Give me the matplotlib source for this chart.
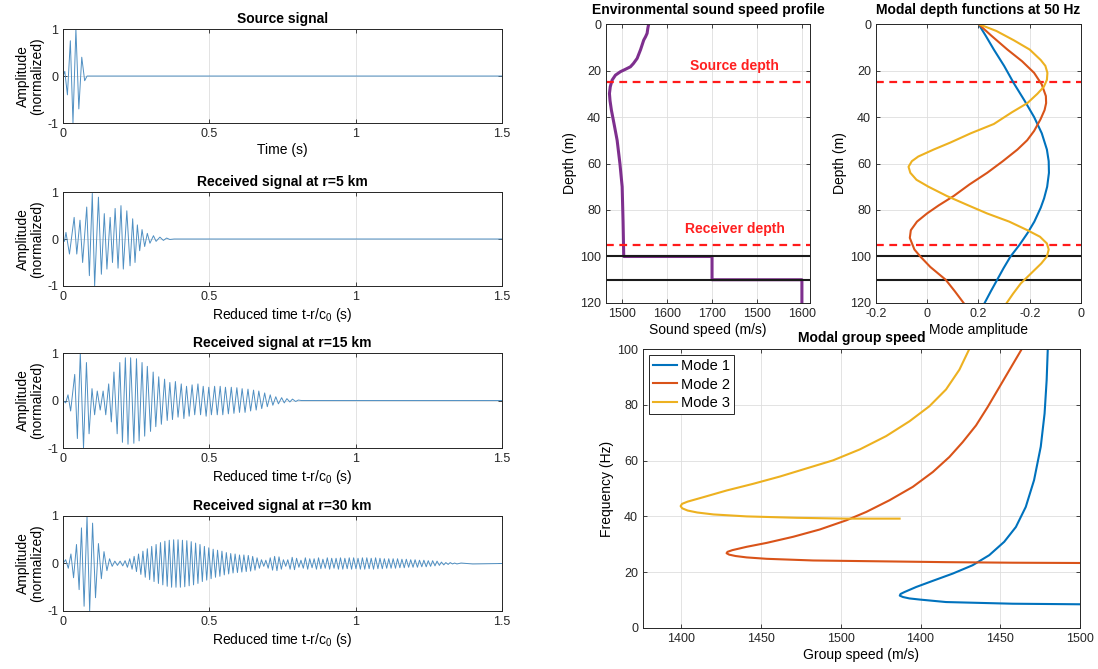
import matplotlib
matplotlib.use("Agg")
import matplotlib.pyplot as plt
import numpy as np

plt.rcParams['font.family'] = ['Liberation Sans', 'DejaVu Sans']
plt.rcParams['mathtext.default'] = 'regular'
plt.rcParams['axes.unicode_minus'] = False

# ---- signals: extrema (time s, normalized amplitude) ----
src_t = [0.000, 0.006, 0.015, 0.025, 0.034, 0.044, 0.054, 0.064, 0.074, 0.082, 1.500]
src_a = [0.00, 0.10, -0.40, 0.75, -1.00, 1.00, -0.70, 0.40, -0.10, 0.00, 0.00]

r5_t = [0.000, 0.005, 0.010, 0.022, 0.038, 0.047, 0.058, 0.067, 0.081, 0.090,
        0.100, 0.108, 0.121, 0.131, 0.141, 0.150, 0.161, 0.169, 0.178, 0.188,
        0.198, 0.206, 0.218, 0.229, 0.238, 0.246, 0.254, 0.262, 0.270, 0.279,
        0.288, 0.297, 0.309, 0.318, 0.331, 0.343, 0.354, 0.365, 0.380, 1.500]
r5_a = [0.00, -0.05, 0.14, -0.32, 0.46, -0.32, 0.40, -0.50, 0.68, -0.78,
        0.97, -1.00, 0.89, -0.75, 0.54, -0.64, 0.46, -0.50, 0.65, -0.62,
        0.71, -0.64, 0.60, -0.57, 0.43, -0.50, 0.30, -0.25, 0.20, -0.16,
        0.12, -0.09, 0.07, -0.05, 0.04, -0.03, 0.02, -0.01, 0.00, 0.00]

r15_t = [0.000, 0.009, 0.017, 0.026, 0.040, 0.049, 0.059, 0.070, 0.080, 0.089,
         0.099, 0.108, 0.117, 0.127, 0.137, 0.146, 0.156, 0.165, 0.174, 0.185,
         0.194, 0.203, 0.213, 0.222, 0.231, 0.242, 0.251, 0.260, 0.270, 0.279,
         0.288, 0.299, 0.308, 0.317, 0.327, 0.336, 0.347, 0.356, 0.365, 0.374,
         0.384, 0.393, 0.404, 0.413, 0.422, 0.431, 0.441, 0.450, 0.461, 0.470,
         0.479, 0.489, 0.498, 0.507, 0.518, 0.527, 0.537, 0.546, 0.555, 0.565,
         0.575, 0.584, 0.594, 0.603, 0.612, 0.622, 0.632, 0.641, 0.651, 0.660,
         0.669, 0.679, 0.689, 0.698, 0.708, 0.717, 0.727, 0.736, 0.747, 0.756,
         0.765, 0.775, 0.784, 0.795, 0.804, 0.815, 1.500]
r15_a = [0.00, -0.05, 0.12, -0.22, 0.55, -0.80, 1.00, -1.00, 0.80, -0.70,
         0.25, -0.30, 0.20, -0.20, 0.20, -0.30, 0.35, -0.45, 0.60, -0.70,
         0.80, -0.88, 0.90, -0.92, 0.90, -0.90, 0.88, -0.85, 0.80, -0.75,
         0.72, -0.65, 0.60, -0.55, 0.50, -0.50, 0.45, -0.42, 0.38, -0.40,
         0.40, -0.35, 0.35, -0.38, 0.30, -0.33, 0.33, -0.30, 0.35, -0.30,
         0.30, -0.33, 0.28, -0.30, 0.30, -0.30, 0.30, -0.30, 0.28, -0.28,
         0.28, -0.27, 0.27, -0.25, 0.25, -0.25, 0.24, -0.22, 0.22, -0.20,
         0.20, -0.17, 0.16, -0.13, 0.12, -0.10, 0.08, -0.07, 0.06, -0.05,
         0.04, -0.03, 0.03, -0.02, 0.01, 0.00, 0.00]

r30_t = [0.000, 0.009, 0.018, 0.027, 0.036, 0.046, 0.055, 0.063, 0.072, 0.082,
         0.091, 0.101, 0.111, 0.121, 0.131, 0.140, 0.150, 0.159, 0.168, 0.177,
         0.186, 0.195, 0.204, 0.212, 0.220,
         0.228, 0.236, 0.243, 0.251, 0.258, 0.266, 0.273, 0.281, 0.288, 0.296,
         0.303, 0.311, 0.318, 0.326, 0.333, 0.341, 0.348, 0.356, 0.363, 0.371,
         0.378, 0.386, 0.393, 0.401, 0.408, 0.416, 0.423, 0.431, 0.438, 0.446,
         0.453, 0.461, 0.468, 0.476, 0.483, 0.491, 0.498, 0.506, 0.513, 0.521,
         0.528, 0.536, 0.543, 0.551, 0.558, 0.566, 0.573, 0.581, 0.588, 0.596,
         0.603, 0.611, 0.618, 0.626, 0.633, 0.641, 0.648, 0.656, 0.663, 0.671,
         0.678, 0.686, 0.693, 0.701, 0.708, 0.716, 0.723, 0.731, 0.738, 0.746,
         0.753, 0.761, 0.768, 0.776, 0.783, 0.791, 0.798, 0.806, 0.813, 0.821,
         0.828, 0.836, 0.843, 0.851, 0.858, 0.866, 0.873, 0.881, 0.888, 0.896,
         0.903, 0.911, 0.918, 0.926, 0.933, 0.941, 0.948, 0.956, 0.963, 0.971,
         0.978, 0.986, 0.993, 1.001, 1.008, 1.016, 1.023, 1.031, 1.038, 1.046,
         1.053, 1.061, 1.068, 1.076, 1.083, 1.091, 1.098, 1.106, 1.113, 1.121,
         1.128, 1.136, 1.143, 1.151, 1.158, 1.166, 1.173, 1.181, 1.188, 1.196,
         1.203, 1.211, 1.218, 1.226, 1.233, 1.241, 1.248, 1.256, 1.263, 1.271,
         1.278, 1.286, 1.293, 1.301, 1.308, 1.316, 1.323, 1.331, 1.338, 1.346,
         1.360, 1.400, 1.500]
r30_a = [0.00, 0.08, -0.10, 0.20, -0.30, 0.40, -0.55, 0.75, -0.90, 1.00,
         -1.00, 0.85, -0.72, 0.42, -0.32, 0.25, -0.15, 0.10, -0.06, 0.05,
         -0.04, 0.05, -0.05, 0.06, -0.08,
         0.10, -0.12, 0.15, -0.17, 0.20, -0.23, 0.26, -0.29, 0.31, -0.34,
         0.36, -0.38, 0.40, -0.42, 0.44, -0.45, 0.47, -0.48, 0.49, -0.50,
         0.50, -0.50, 0.50, -0.50, 0.49, -0.49, 0.48, -0.47, 0.46, -0.45,
         0.43, -0.42, 0.40, -0.38, 0.36, -0.35, 0.33, -0.32, 0.30, -0.29,
         0.28, -0.27, 0.26, -0.24, 0.23, -0.22, 0.21, -0.20, 0.20, -0.19,
         0.18, -0.18, 0.18, -0.17, 0.17, -0.16, 0.15, -0.14, 0.12, -0.10,
         0.08, -0.06, 0.07, -0.10, 0.12, -0.14, 0.15, -0.15, 0.14, -0.12,
         0.08, -0.06, 0.08, -0.12, 0.13, -0.13, 0.11, -0.08, 0.07, -0.10,
         0.12, -0.12, 0.10, -0.09, 0.10, -0.12, 0.12, -0.11, 0.09, -0.10,
         0.12, -0.12, 0.11, -0.10, 0.11, -0.12, 0.12, -0.12, 0.11, -0.11,
         0.12, -0.12, 0.12, -0.11, 0.11, -0.12, 0.12, -0.12, 0.12, -0.11,
         0.11, -0.12, 0.12, -0.11, 0.11, -0.11, 0.10, -0.10, 0.10, -0.10,
         0.10, -0.10, 0.10, -0.09, 0.09, -0.09, 0.09, -0.08, 0.08, -0.08,
         0.08, -0.08, 0.07, -0.07, 0.07, -0.07, 0.06, -0.06, 0.06, -0.05,
         0.05, -0.04, 0.03, -0.03, 0.02, -0.02, 0.02, -0.01, 0.01, -0.01,
         0.01, -0.01, 0.00]

signal_titles = ['Source signal', 'Received signal at r=5 km',
                 'Received signal at r=15 km', 'Received signal at r=30 km']
signal_xlabels = ['Time (s)'] + [r'Reduced time t-r/c$_0$ (s)'] * 3

# ---- sound speed profile ----
ssp_c = [1559, 1557, 1555.5, 1552, 1548, 1541, 1533.3, 1525, 1518.4, 1507, 1496.2, 1485,
         1477.7, 1473.5, 1471.7, 1473, 1476, 1482, 1488.8, 1495, 1500, 1502, 1503.5,
         1700, 1700, 1900, 1900]
ssp_z = [0, 2, 4, 5.5, 6.9, 11, 14.8, 17, 18.4, 19.5, 20.5, 22,
         24.1, 27, 29.9, 33, 37, 43, 50, 60, 70, 85, 100,
         100, 110, 110, 120]
ssp_ticklabels = ['1500', '1600', '1700', '1500', '1600']
source_depth = 25
receiver_depth = 95
layer_depths = [100, 110]

# ---- modal depth functions at 50 Hz ----
mode1_z = [0, 5, 11, 18, 25.5, 33, 40, 47, 54, 59, 64, 70, 75, 79, 85, 90, 95, 100, 105,
           110, 115, 120]
mode1_v = [0.2, 0.228, 0.26, 0.30, 0.338, 0.38, 0.417, 0.447, 0.467, 0.474, 0.475, 0.468,
           0.456, 0.443, 0.418, 0.391, 0.36, 0.325, 0.298, 0.273, 0.248, 0.224]
mode2_z = [0, 5, 11, 16, 21, 26, 31, 34, 37, 41, 46, 50, 54, 59, 64, 69, 74, 78, 81.5, 85,
           88.7, 92, 97, 100, 104.5, 110, 115, 120]
mode2_v = [0.2, 0.25, 0.313, 0.37, 0.417, 0.447, 0.463, 0.464, 0.458, 0.442, 0.417, 0.39,
           0.352, 0.295, 0.234, 0.165, 0.103, 0.045, -0.001, -0.04, -0.064, -0.068, -0.05,
           -0.027, 0.012, 0.072, 0.108, 0.142]
mode3_z = [0, 3, 7, 11, 15.5, 18, 21, 24, 27, 30, 34, 38, 43, 47, 51, 54, 57, 59, 61.4,
           64, 67, 70, 74, 78, 81.5, 85, 88.7, 91.5, 94.4, 97, 100, 103, 106, 111.6, 116,
           120]
mode3_v = [0.2, 0.27, 0.338, 0.40, 0.443, 0.461, 0.469, 0.467, 0.455, 0.43, 0.391, 0.33,
           0.26, 0.17, 0.09, 0.025, -0.035, -0.06, -0.073, -0.066, -0.042, 0.005, 0.077,
           0.16, 0.234, 0.32, 0.391, 0.44, 0.467, 0.474, 0.467, 0.445, 0.417, 0.365, 0.335,
           0.31]
mode_ticklabels = ['-0.2', '0', '0.2', '-0.2', '0']

# ---- modal group speed ----
g1_c = [1660, 1649.8, 1607.7, 1566, 1549.4, 1543, 1539, 1537, 1537.5, 1540, 1547.3,
        1557.7, 1570.2, 1582.7, 1593.1, 1602.5, 1609.8, 1616, 1621.2, 1625.4, 1627.8,
        1629.1, 1629.8]
g1_f = [8.4, 8.5, 8.7, 9.3, 10.2, 10.6, 11.1, 11.6, 12.2, 12.9, 14.7,
        16.9, 19.5, 22.5, 26.1, 30.9, 36.2, 43.4, 53, 65, 76.9,
        88.9, 100]
g2_c = [1660, 1649.8, 1607.7, 1566, 1524.4, 1482.7, 1453.5, 1441, 1434, 1430, 1428.4,
        1429, 1432, 1441, 1453.5, 1470.2, 1486.8, 1503.5, 1516, 1530.6, 1545.2, 1557.7,
        1568.1, 1576.4, 1584.8, 1592.1, 1599.2, 1606.5, 1613.5]
g2_f = [23.2, 23.3, 23.4, 23.6, 23.9, 24.2, 24.8, 25.3, 25.8, 26.3, 26.8,
        27.3, 27.9, 29.1, 30.5, 32.7, 35.3, 38.6, 41.6, 45.8, 50.6, 55.9,
        61.3, 66.6, 72.6, 79.2, 86.1, 93.2, 100]
g3_c = [1536.9, 1503.5, 1472.3, 1441, 1420.2, 1410, 1404, 1400.6, 1399.6, 1400.5, 1404,
        1413.9, 1428.5, 1445.2, 1461.9, 1478.5, 1495.2, 1511.9, 1528.5, 1543.1, 1555.6,
        1566, 1574.4, 1580.6]
g3_f = [39.2, 39.2, 39.5, 40.0, 40.7, 41.4, 42.1, 42.9, 43.7, 44.5, 45.3,
        46.9, 49.3, 51.7, 54.3, 57.2, 60.1, 64.0, 68.8, 74.1, 79.5,
        85.5, 92.6, 100]
group_ticklabels = ['1400', '1450', '1500', '1400', '1450', '1500']
mode_names = ['Mode 1', 'Mode 2', 'Mode 3']

mode_colors = ['#0072BD', '#D95319', '#EDB120']
axcol = '#262626'
sigcol = '#4f8fc2'


def style(ax):
    ax.tick_params(direction='in', top=True, right=True, labelsize=9,
                   colors=axcol, length=3, width=0.6)
    for s in ax.spines.values():
        s.set_color(axcol)
        s.set_linewidth(0.7)
    ax.grid(True, color='#dedede', linewidth=0.6)
    ax.set_axisbelow(True)


fig = plt.figure(figsize=(10.98, 6.69), dpi=100)

# left column
rects = [[0.0574, 0.8161, 0.3998, 0.1405],
         [0.0574, 0.5725, 0.3998, 0.1405],
         [0.0574, 0.3303, 0.3998, 0.1420],
         [0.0574, 0.0867, 0.3998, 0.1420]]
sig_t = [src_t, r5_t, r15_t, r30_t]
sig_a = [src_a, r5_a, r15_a, r30_a]
for i in range(4):
    ax = fig.add_axes(rects[i])
    ax.plot(sig_t[i], sig_a[i], color=sigcol, linewidth=0.7)
    ax.set_xlim(0, 1.5)
    ax.set_ylim(-1, 1)
    ax.set_xticks([0, 0.5, 1, 1.5])
    ax.set_xticklabels(['0', '0.5', '1', '1.5'])
    ax.set_yticks([-1, 0, 1])
    ax.set_title(signal_titles[i], fontsize=10, fontweight='bold', pad=4)
    ax.set_xlabel(signal_xlabels[i], fontsize=10, labelpad=2)
    ax.set_ylabel('Amplitude\n(normalized)', fontsize=10, labelpad=2, linespacing=1.0)
    style(ax)

# sound speed profile
ax = fig.add_axes([0.5519, 0.5471, 0.1858, 0.4170])
ax.plot(ssp_c, ssp_z, color='#7E2F8E', linewidth=2.2)
for d in layer_depths:
    ax.axhline(d, color='#1a1a1a', linewidth=1.5)
for d in [source_depth, receiver_depth]:
    ax.axhline(d, color='#ff1a1a', linewidth=1.6, linestyle=(0, (3.5, 2.5)))
ax.text(1750, 18, 'Source depth', color='#ff2020', fontsize=10, fontweight='bold',
        ha='center', va='center')
ax.text(1750, 88, 'Receiver depth', color='#ff2020', fontsize=10, fontweight='bold',
        ha='center', va='center')
ax.set_xlim(1464, 1918)
ax.set_ylim(120, 0)
ax.set_xticks([1500, 1600, 1700, 1800, 1900])
ax.set_xticklabels(ssp_ticklabels)
ax.set_yticks(range(0, 121, 20))
ax.set_title('Environmental sound speed profile', fontsize=10, fontweight='bold', pad=7)
ax.set_xlabel('Sound speed (m/s)', fontsize=10, labelpad=2)
ax.set_ylabel('Depth (m)', fontsize=10, labelpad=2)
style(ax)

# modal depth functions
ax = fig.add_axes([0.7978, 0.5471, 0.1867, 0.4170])
for d in layer_depths:
    ax.axhline(d, color='#1a1a1a', linewidth=1.5)
for d in [source_depth, receiver_depth]:
    ax.axhline(d, color='#ff1a1a', linewidth=1.6, linestyle=(0, (3.5, 2.5)))
for v, z, c in zip([mode1_v, mode2_v, mode3_v], [mode1_z, mode2_z, mode3_z], mode_colors):
    ax.plot(v, z, color=c, linewidth=1.5)
ax.set_xlim(-0.2, 0.6)
ax.set_ylim(120, 0)
ax.set_xticks([-0.2, 0, 0.2, 0.4, 0.6])
ax.set_xticklabels(mode_ticklabels)
ax.set_yticks(range(0, 121, 20))
ax.set_title('Modal depth functions at 50 Hz', fontsize=10, fontweight='bold', pad=7)
ax.set_xlabel('Mode amplitude', fontsize=10, labelpad=2)
ax.set_ylabel('Depth (m)', fontsize=10, labelpad=2)
style(ax)

# modal group speed
ax = fig.add_axes([0.5856, 0.0613, 0.3980, 0.4170])
for cc, ff, c, n in zip([g1_c, g2_c, g3_c], [g1_f, g2_f, g3_f], mode_colors, mode_names):
    ax.plot(cc, ff, color=c, linewidth=1.5, label=n)
ax.set_xlim(1376, 1650)
ax.set_ylim(0, 100)
ax.set_xticks([1400, 1450, 1500, 1550, 1600, 1650])
ax.set_xticklabels(group_ticklabels)
ax.set_yticks(range(0, 101, 20))
ax.set_title('Modal group speed', fontsize=10, fontweight='bold', pad=5)
ax.set_xlabel('Group speed (m/s)', fontsize=10, labelpad=2)
ax.set_ylabel('Frequency (Hz)', fontsize=10, labelpad=2)
leg = ax.legend(loc='upper left', fontsize=10.5, fancybox=False, framealpha=1,
                edgecolor=axcol, borderaxespad=0.4, handlelength=1.6,
                labelspacing=0.3, handletextpad=0.3, borderpad=0.3)
leg.get_frame().set_linewidth(0.7)
style(ax)

fig.savefig('out.png', dpi=100)
